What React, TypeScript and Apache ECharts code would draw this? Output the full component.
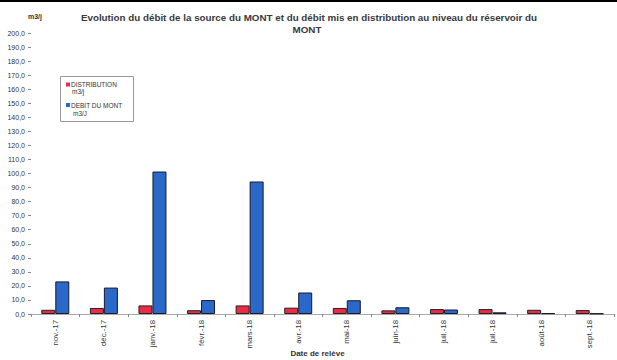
import React, { useEffect, useRef } from "react";
import * as echarts from "echarts";

const categories = [
  "nov.-17", "déc.-17", "janv.-18", "févr.-18", "mars-18", "avr.-18",
  "mai-18", "juin-18", "juil.-18", "juil.-18", "août-18", "sept.-18",
];
const distribution = [3.0, 4.3, 6.1, 2.7, 6.1, 4.5, 4.3, 2.6, 3.5, 3.5, 3.0, 2.8];
const debitMont = [23.2, 18.8, 101.4, 9.9, 94.3, 15.3, 9.8, 4.8, 3.2, 1.2, 0.6, 0.4];
const yTicks = { min: 0, max: 200, interval: 10 };
const title1 = "Evolution du débit de la source du MONT et du débit mis en distribution au niveau du réservoir du";
const title2 = "MONT";

const FONT = "'Liberation Sans', Arial, sans-serif";
const RED = "#ee2a45";
const BLUE = "#2a68c9";

export default function App() {
  const ref = useRef<HTMLDivElement>(null);
  useEffect(() => {
    if (!ref.current) return;
    const chart = echarts.init(ref.current, null, { renderer: "svg" });
    chart.setOption({
      animation: false,
      backgroundColor: "#ffffff",
      textStyle: { fontFamily: FONT },
      grid: { left: 31, right: 3, top: 33, bottom: 46, containLabel: false, outerBoundsMode: "none" },
      xAxis: {
        type: "category",
        data: categories,
        name: "Date de relève",
        nameLocation: "middle",
        nameGap: 35,
        nameMoveOverlap: false,
        nameTextStyle: { fontFamily: FONT, fontWeight: "bold", fontSize: 8, color: "#333", padding: [0, 10, 0, 0] },
        axisLine: { show: true, lineStyle: { color: "#aaa", width: 1 } },
        axisTick: { show: true, length: 3, alignWithLabel: false, lineStyle: { color: "#888" } },
        axisLabel: { rotate: 90, fontSize: 7.8, color: "#333", margin: 6, fontFamily: FONT },
      },
      yAxis: {
        type: "value",
        min: yTicks.min,
        max: yTicks.max,
        interval: yTicks.interval,
        name: "m3/j",
        nameLocation: "end",
        nameGap: 13,
        nameMoveOverlap: false,
        nameTextStyle: { fontFamily: FONT, fontWeight: "bold", fontSize: 7, color: "#333", align: "center", padding: [0, 0, 0, 8] },
        axisLine: { show: false },
        axisTick: { show: true, length: 3, lineStyle: { color: "#888" } },
        splitLine: { show: false },
        axisLabel: {
          fontSize: 7,
          color: "#333",
          margin: 6,
          fontFamily: FONT,
          formatter: (v: number) => v.toFixed(1).replace(".", ","),
        },
      },
      legend: { show: false },
      series: [
        {
          name: "DISTRIBUTION m3/j",
          type: "bar",
          data: distribution,
          barWidth: 14,
          barGap: "0%",
          itemStyle: { color: RED, borderColor: "#222", borderWidth: 1 },
        },
        {
          name: "DEBIT DU MONT m3/J",
          type: "bar",
          data: debitMont,
          barWidth: 14,
          barGap: "0%",
          itemStyle: { color: BLUE, borderColor: "#1a1a2a", borderWidth: 1 },
        },
      ],
      graphic: [
        { type: "rect", shape: { x: 0, y: 0, width: 617, height: 2 }, style: { fill: "#000" }, silent: true },
        {
          type: "text", x: 309, y: 17,
          style: { text: title1, font: `bold 9.8px ${FONT}`, fill: "#3a3a3a", textAlign: "center", textVerticalAlign: "middle" },
        },
        {
          type: "text", x: 307, y: 29,
          style: { text: title2, font: `bold 9.8px ${FONT}`, fill: "#3a3a3a", textAlign: "center", textVerticalAlign: "middle" },
        },
        { type: "rect", shape: { x: 60.5, y: 76.5, width: 73, height: 45 }, style: { fill: "#fff", stroke: "#999", lineWidth: 1 } },
        { type: "rect", shape: { x: 66, y: 82.5, width: 4, height: 4 }, style: { fill: RED } },
        { type: "text", x: 71, y: 84.5, style: { text: "DISTRIBUTION", font: `6.5px ${FONT}`, fill: "#333", textVerticalAlign: "middle" } },
        { type: "text", x: 72, y: 91.5, style: { text: "m3/j", font: `6.5px ${FONT}`, fill: "#333", textVerticalAlign: "middle" } },
        { type: "rect", shape: { x: 66, y: 103, width: 4, height: 4 }, style: { fill: BLUE } },
        { type: "text", x: 71, y: 105, style: { text: "DEBIT DU MONT", font: `6.5px ${FONT}`, fill: "#333", textVerticalAlign: "middle" } },
        { type: "text", x: 73, y: 113, style: { text: "m3/J", font: `6.5px ${FONT}`, fill: "#333", textVerticalAlign: "middle" } },
      ],
    });
    return () => chart.dispose();
  }, []);
  return <div ref={ref} style={{ width: 617, height: 360, position: "fixed", left: 0, top: 0 }} />;
}
